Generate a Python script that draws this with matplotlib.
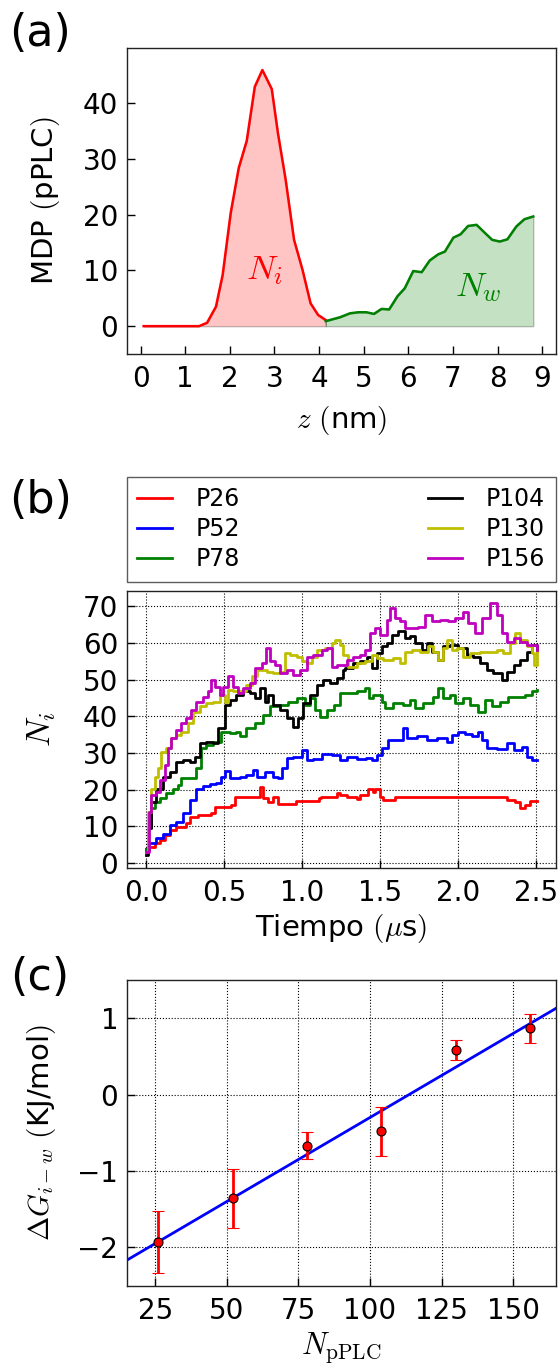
import numpy as np
import matplotlib
matplotlib.use("Agg")
import matplotlib.pyplot as plt

plt.rcParams["font.family"] = ["DejaVu Sans"]
plt.rcParams["mathtext.fontset"] = "cm"

# ---------------- (a) density profile ----------------
z_int = [0.07, 0.25, 0.42, 0.60, 0.78, 0.96, 1.14, 1.31, 1.49, 1.69, 1.84, 2.02,
         2.20, 2.38, 2.56, 2.73, 2.94, 3.08, 3.25, 3.44, 3.63, 3.81, 3.98, 4.15]
mdp_int = [0.0, 0.0, 0.0, 0.0, 0.0, 0.0, 0.0, 0.0, 0.6, 3.5, 9.2, 20.3,
           28.4, 33.3, 43.0, 46.0, 42.6, 34.6, 26.4, 15.5, 10.1, 4.1, 2.0, 1.1]

z_wat = [4.15, 4.47, 4.69, 4.88, 5.06, 5.23, 5.40, 5.57, 5.76, 5.92, 6.11, 6.30, 6.48,
         6.67, 6.82, 7.01, 7.17, 7.34, 7.53, 7.71, 7.88, 8.05, 8.22, 8.42, 8.60, 8.80]
mdp_wat = [0.9, 1.6, 2.3, 2.5, 2.5, 2.2, 3.1, 3.0, 5.4, 6.8, 9.9, 9.7, 11.8,
           12.9, 13.4, 15.9, 16.5, 18.0, 18.2, 16.8, 15.5, 15.2, 15.6, 17.9, 19.2, 19.7]

# ---------------- (b) N_i versus time ----------------
t_p26 = [0.0, 0.021, 0.054, 0.086, 0.118, 0.15, 0.193, 0.257, 0.278, 0.33, 0.418, 0.439,
         0.49, 0.546, 0.567, 0.717, 0.732, 0.75, 0.78, 0.81, 0.846, 0.92, 0.96, 1.11,
         1.12, 1.22, 1.241, 1.284, 1.348, 1.37, 1.42, 1.455, 1.466, 1.498, 1.519, 1.594,
         1.84, 2.267, 2.31, 2.363, 2.395, 2.427, 2.46, 2.502]
n_p26 = [3.5, 4.4, 5.3, 6.2, 7.6, 8.9, 9.8, 10.8, 12.6, 13.0, 13.5, 15.3,
         15.3, 15.8, 18.0, 18.0, 20.8, 17.6, 16.7, 18.0, 16.2, 16.2, 16.9, 17.6,
         18.0, 19.0, 18.5, 18.0, 17.4, 18.5, 20.3, 19.4, 20.3, 18.0, 17.1, 18.0,
         18.0, 18.0, 17.1, 16.5, 15.0, 15.8, 17.0, 17.0]

t_p52 = [0.0, 0.021, 0.064, 0.107, 0.15, 0.193, 0.236, 0.278, 0.32, 0.364, 0.407, 0.45,
         0.482, 0.503, 0.535, 0.6, 0.642, 0.685, 0.707, 0.76, 0.81, 0.846, 0.867, 0.9,
         0.942, 0.996, 1.028, 1.07, 1.124, 1.19, 1.24, 1.284, 1.348, 1.41, 1.444, 1.476,
         1.51, 1.55, 1.605, 1.647, 1.67, 1.733, 1.797, 1.861, 1.925, 1.957, 2.0, 2.043,
         2.085, 2.128, 2.15, 2.18, 2.246, 2.31, 2.353, 2.406, 2.438, 2.47, 2.502]
n_p52 = [3.9, 5.3, 6.7, 8.0, 10.3, 11.2, 13.5, 17.1, 20.3, 21.1, 21.4, 21.7,
         23.5, 25.1, 23.2, 23.5, 24.0, 25.3, 23.5, 24.9, 23.5, 23.1, 25.8, 28.5,
         29.0, 30.8, 28.1, 28.4, 29.6, 29.4, 28.1, 29.0, 28.4, 28.5, 28.1, 29.4,
         31.3, 33.5, 33.5, 36.7, 34.0, 34.5, 33.5, 34.0, 33.1, 34.9, 35.8, 35.1,
         34.5, 35.8, 33.5, 31.3, 31.1, 32.6, 30.8, 31.7, 29.0, 28.1, 28.1]

t_p78 = [0.0, 0.011, 0.032, 0.054, 0.086, 0.128, 0.171, 0.203, 0.225, 0.278, 0.32, 0.353,
         0.385, 0.428, 0.482, 0.535, 0.578, 0.6, 0.642, 0.696, 0.75, 0.792, 0.857, 0.91,
         0.964, 1.017, 1.05, 1.08, 1.113, 1.156, 1.2, 1.24, 1.305, 1.348, 1.4, 1.43,
         1.455, 1.508, 1.53, 1.583, 1.647, 1.69, 1.722, 1.776, 1.84, 1.872, 1.904, 1.947,
         1.979, 2.032, 2.075, 2.128, 2.17, 2.214, 2.267, 2.32, 2.374, 2.427, 2.47, 2.502]
n_p78 = [3.9, 9.4, 14.9, 16.7, 17.6, 19.0, 20.3, 21.2, 23.1, 23.2, 25.8, 31.3,
         32.2, 33.1, 35.8, 35.4, 35.8, 34.5, 36.7, 38.1, 40.4, 42.7, 43.1, 44.0,
         44.9, 43.1, 44.9, 41.8, 39.9, 41.8, 43.1, 46.3, 46.3, 46.8, 47.7, 44.9,
         45.9, 44.0, 42.2, 43.6, 43.1, 44.5, 42.2, 43.6, 45.4, 47.7, 44.9, 45.9,
         43.6, 44.9, 43.1, 41.3, 44.5, 42.7, 44.0, 45.4, 45.4, 45.9, 46.8, 47.2]

t_p104 = [0.0, 0.011, 0.032, 0.064, 0.107, 0.15, 0.193, 0.236, 0.278, 0.31, 0.343, 0.385,
          0.428, 0.46, 0.503, 0.535, 0.578, 0.621, 0.664, 0.696, 0.728, 0.76, 0.782, 0.814,
          0.857, 0.9, 0.942, 0.974, 1.006, 1.05, 1.092, 1.135, 1.178, 1.22, 1.263, 1.273,
          1.327, 1.37, 1.412, 1.444, 1.476, 1.51, 1.54, 1.573, 1.615, 1.658, 1.69, 1.722,
          1.765, 1.797, 1.83, 1.872, 1.904, 1.947, 2.0, 2.053, 2.096, 2.139, 2.182, 2.224,
          2.278, 2.31, 2.353, 2.395, 2.438, 2.47, 2.502]
n_p104 = [2.1, 9.4, 16.7, 20.3, 23.5, 24.9, 27.6, 28.1, 27.6, 29.0, 32.6, 33.1,
          32.6, 36.7, 43.1, 44.5, 45.9, 46.8, 46.3, 44.9, 47.7, 44.0, 45.9, 43.1,
          41.8, 39.5, 37.2, 39.5, 43.6, 45.9, 48.6, 50.0, 49.0, 50.4, 52.7, 53.1,
          54.5, 55.0, 56.3, 53.1, 57.3, 59.1, 60.0, 62.3, 63.2, 61.3, 61.8, 60.0,
          58.2, 60.0, 57.7, 55.4, 59.1, 59.5, 58.6, 56.8, 56.3, 54.5, 52.7, 51.8,
          50.0, 52.2, 54.1, 55.4, 57.7, 59.5, 58.2]

t_p130 = [0.0, 0.011, 0.032, 0.054, 0.075, 0.096, 0.128, 0.16, 0.193, 0.225, 0.268, 0.3,
          0.343, 0.385, 0.428, 0.471, 0.503, 0.525, 0.557, 0.6, 0.642, 0.675, 0.707, 0.771,
          0.814, 0.857, 0.889, 0.92, 0.964, 0.996, 1.028, 1.06, 1.092, 1.146, 1.19, 1.21,
          1.24, 1.263, 1.295, 1.348, 1.4, 1.444, 1.476, 1.519, 1.583, 1.626, 1.658, 1.7,
          1.754, 1.808, 1.84, 1.872, 1.904, 1.925, 1.957, 1.989, 2.032, 2.075, 2.139, 2.203,
          2.246, 2.288, 2.331, 2.363, 2.395, 2.438, 2.47, 2.485, 2.502]
n_p130 = [3.0, 13.9, 20.3, 23.5, 25.8, 30.4, 31.3, 34.0, 34.9, 35.8, 38.1, 41.3,
          42.7, 43.6, 44.0, 45.9, 44.0, 47.2, 46.8, 46.8, 48.6, 50.9, 52.7, 52.2,
          51.8, 52.2, 57.2, 56.8, 56.3, 55.0, 54.5, 56.3, 58.2, 58.6, 60.0, 60.9,
          59.5, 56.8, 53.6, 54.5, 55.0, 56.8, 55.9, 55.4, 55.9, 54.5, 57.7, 58.2,
          57.7, 59.1, 57.7, 55.4, 58.6, 60.9, 58.2, 58.6, 56.3, 57.2, 57.7, 57.7,
          58.2, 57.2, 60.0, 62.7, 60.9, 59.1, 57.2, 54.1, 57.7]

t_p156 = [0.0, 0.017, 0.032, 0.064, 0.086, 0.118, 0.139, 0.16, 0.193, 0.225, 0.257, 0.289,
          0.32, 0.364, 0.396, 0.418, 0.439, 0.471, 0.493, 0.525, 0.557, 0.589, 0.621, 0.664,
          0.696, 0.739, 0.767, 0.792, 0.824, 0.857, 0.9, 0.942, 0.985, 1.028, 1.07, 1.124,
          1.156, 1.19, 1.22, 1.284, 1.327, 1.37, 1.402, 1.434, 1.466, 1.498, 1.54, 1.562,
          1.594, 1.626, 1.658, 1.7, 1.744, 1.786, 1.829, 1.882, 1.936, 1.979, 2.032, 2.064,
          2.107, 2.15, 2.203, 2.246, 2.278, 2.31, 2.353, 2.395, 2.438, 2.47, 2.502]
n_p156 = [3.0, 13.9, 18.5, 19.4, 22.6, 26.7, 31.3, 34.0, 36.3, 38.1, 39.5, 41.8,
          44.0, 45.4, 46.8, 50.0, 48.1, 45.9, 48.1, 50.9, 48.1, 46.3, 47.7, 49.0,
          53.1, 54.5, 58.6, 55.0, 54.1, 51.8, 52.7, 51.3, 52.7, 56.3, 56.8, 58.2,
          58.6, 53.6, 54.1, 55.4, 56.3, 56.8, 58.2, 62.7, 64.1, 62.3, 66.4, 69.6,
          66.8, 65.9, 64.1, 64.1, 64.5, 67.7, 65.9, 66.4, 65.9, 66.8, 68.6, 65.5,
          62.7, 66.8, 70.9, 67.7, 62.7, 60.4, 61.3, 60.4, 59.5, 59.5, 58.2]

series_labels = ["P26", "P52", "P78", "P104", "P130", "P156"]
series_colors = ["r", "b", "g", "k", "y", "m"]

# ---------------- (c) free energy vs number of pPLC ----------------
n_pplc = [26, 52, 78, 104, 130, 156]
dg = [-1.93, -1.36, -0.67, -0.48, 0.58, 0.87]
dg_err = [0.40, 0.39, 0.18, 0.32, 0.13, 0.19]

# ---------------- figure ----------------
W, H = 558, 1367
fig = plt.figure(figsize=(W / 100, H / 100), dpi=100)


def axes_px(left, top, right, bottom):
    return fig.add_axes([left / W, 1 - bottom / H, (right - left) / W, (bottom - top) / H])


tick_kw = dict(direction="in", length=6, width=1, labelsize=20, top=False, right=False)

# (a)
ax1 = axes_px(126.7, 48.3, 556, 354)
ax1.fill_between(z_int, 0, mdp_int, facecolor="r", edgecolor="k", alpha=0.23, lw=1)
ax1.fill_between(z_wat, 0, mdp_wat, facecolor="g", edgecolor="k", alpha=0.23, lw=1)
ax1.plot(z_int, mdp_int, color="r", lw=1.8)
ax1.plot(z_wat, mdp_wat, color="g", lw=1.8)
ax1.text(2.79, 10, "$N_i$", color="r", fontsize=25, ha="center", va="center")
ax1.text(7.57, 7.1, "$N_w$", color="g", fontsize=25, ha="center", va="center")
ax1.set_xlim(-0.31, 9.31)
ax1.set_ylim(-5, 49.9)
ax1.set_xticks(range(10))
ax1.set_yticks([0, 10, 20, 30, 40])
ax1.tick_params(axis="x", pad=8, **tick_kw)
ax1.tick_params(axis="y", pad=6, **tick_kw)
ax1.set_xlabel("$z$ $($nm$)$", fontsize=21)
ax1.set_ylabel("MDP $($pPLC$)$", fontsize=21)
ax1.xaxis.set_label_coords(0.5, -0.165)
ax1.yaxis.set_label_coords(-0.15, 0.5)

# (b)
ax2 = axes_px(126.7, 590.7, 556, 868)
ts = [t_p26, t_p52, t_p78, t_p104, t_p130, t_p156]
ns = [n_p26, n_p52, n_p78, n_p104, n_p130, n_p156]
for t, n, lab, col in zip(ts, ns, series_labels, series_colors):
    ax2.plot(t, n, color=col, lw=2, drawstyle="steps-post", label=lab)
ax2.set_xlim(-0.125, 2.625)
ax2.set_ylim(-1.4, 74.3)
ax2.set_xticks([0.0, 0.5, 1.0, 1.5, 2.0, 2.5])
ax2.set_xticklabels(["0.0", "0.5", "1.0", "1.5", "2.0", "2.5"])
ax2.set_yticks(range(0, 71, 10))
ax2.grid(True, color="k", linestyle=":", lw=0.8)
ax2.tick_params(axis="x", pad=8, **tick_kw)
ax2.tick_params(axis="y", pad=6, **tick_kw)
ax2.set_xlabel("Tiempo $(\\mu$s$)$", fontsize=21)
ax2.set_ylabel("$N_i$", fontsize=24)
ax2.xaxis.set_label_coords(0.5, -0.16)
ax2.yaxis.set_label_coords(-0.16, 0.5)
leg = ax2.legend(loc="lower left", bbox_to_anchor=(0, 1.032, 1, 0.39), mode="expand",
                 ncol=2, fontsize=17, frameon=True, fancybox=False, handlelength=1.45,
                 handletextpad=1.0, labelspacing=0.25, borderpad=0.45, borderaxespad=0)
leg.get_frame().set_edgecolor("#333333")
leg.get_frame().set_linewidth(1)

# (c)
ax3 = axes_px(126.7, 980, 556, 1285.5)
ax3.set_xlim(15, 165)
ax3.set_ylim(-2.5, 1.5)
slope, intercept = np.polyfit(n_pplc, dg, 1)
xfit = np.array(ax3.get_xlim())
ax3.plot(xfit, slope * xfit + intercept, color="b", lw=2, zorder=2)
ax3.errorbar(n_pplc, dg, yerr=dg_err, fmt="o", color="r", mec="k", mew=0.8, ms=6.5,
             ecolor="r", elinewidth=2, capsize=4, capthick=1, zorder=3)
ax3.set_xticks([25, 50, 75, 100, 125, 150])
ax3.set_yticks([-2, -1, 0, 1])
ax3.grid(True, color="k", linestyle=":", lw=0.8)
ax3.tick_params(axis="x", pad=8, **tick_kw)
ax3.tick_params(axis="y", pad=6, **tick_kw)
ax3.set_xlabel("$N_{\\rm pPLC}$", fontsize=22)
ax3.set_ylabel("$\\Delta G_{i-w}$ $($KJ/mol$)$", fontsize=21)
ax3.xaxis.set_label_coords(0.5, -0.145)
ax3.yaxis.set_label_coords(-0.16, 0.5)

for ax in (ax1, ax2, ax3):
    for s in ax.spines.values():
        s.set_linewidth(1)
        s.set_color("#222222")

fig.text(0.072, 1 - 33 / H, "(a)", fontsize=32, ha="center", va="center")
fig.text(0.072, 1 - 500 / H, "(b)", fontsize=32, ha="center", va="center")
fig.text(0.072, 1 - 978 / H, "(c)", fontsize=32, ha="center", va="center")

fig.savefig("out.png", dpi=100)
